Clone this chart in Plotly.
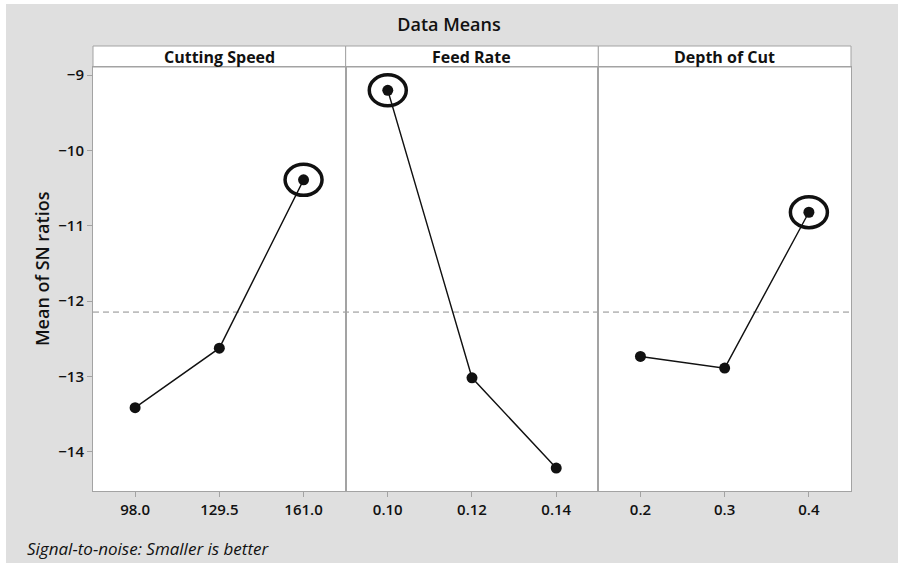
import plotly.graph_objects as go
from plotly.subplots import make_subplots

# Main effects of each factor on the mean S/N ratio
factors = ["Cutting Speed", "Feed Rate", "Depth of Cut"]

cutting_speed_levels = ["98.0", "129.5", "161.0"]
cutting_speed_sn = [-13.415, -12.625, -10.391]

feed_rate_levels = ["0.10", "0.12", "0.14"]
feed_rate_sn = [-9.202, -13.018, -14.217]

depth_of_cut_levels = ["0.2", "0.3", "0.4"]
depth_of_cut_sn = [-12.735, -12.890, -10.821]

y_ticks = [-14, -13, -12, -11, -10, -9]

levels = [cutting_speed_levels, feed_rate_levels, depth_of_cut_levels]
means = [cutting_speed_sn, feed_rate_sn, depth_of_cut_sn]

all_values = cutting_speed_sn + feed_rate_sn + depth_of_cut_sn
grand_mean = sum(all_values) / len(all_values)

W, H = 898, 563
ML, MR, MT, MB = 93, 47, 67, 72
plot_h = H - MT - MB
plot_w = W - ML - MR
strip_h = 21

BG = "#dfdfdf"
FRAME = "#a3a3a3"
INK = "#111111"
FONT = "Open Sans"

fig = make_subplots(rows=1, cols=3, shared_yaxes=True, horizontal_spacing=0)

for i, (lv, vals, name) in enumerate(zip(levels, means, factors), start=1):
    xs = list(range(len(lv)))
    fig.add_trace(
        go.Scatter(
            x=xs, y=vals, mode="lines+markers", name=name,
            line=dict(color=INK, width=1.4),
            marker=dict(color=INK, size=11),
            showlegend=False, hoverinfo="skip",
        ),
        row=1, col=i,
    )
    xname = "x" if i == 1 else f"x{i}"
    yname = "y" if i == 1 else f"y{i}"

    # ring around the best (highest S/N) level
    best = max(range(len(vals)), key=lambda k: vals[k])
    fig.add_shape(
        type="circle", xref=xname, yref=yname,
        xsizemode="pixel", ysizemode="pixel",
        xanchor=xs[best], yanchor=vals[best],
        x0=-18.5, x1=18.5, y0=-15.5, y1=15.5,
        line=dict(color=INK, width=3.5), fillcolor="rgba(0,0,0,0)",
        layer="above",
    )

    # factor header strip
    dom = f"{xname} domain"
    fig.add_shape(
        type="rect", xref=dom, yref="paper",
        x0=0, x1=1, y0=1, y1=1 + strip_h / plot_h,
        fillcolor="white", line=dict(color=FRAME, width=1), layer="below",
    )
    fig.add_annotation(
        xref=dom, yref="paper", x=0.5, y=1 + strip_h / 2 / plot_h,
        text=f"<b>{name}</b>", showarrow=False,
        font=dict(family=FONT, size=16, color=INK),
        xanchor="center", yanchor="middle",
    )

    fig.update_xaxes(
        row=1, col=i, tickvals=xs, ticktext=lv, range=[-0.5, len(lv) - 0.5],
        showline=True, mirror=True, linecolor=FRAME, linewidth=1,
        ticks="outside", ticklen=5, tickcolor=FRAME, showgrid=False,
        zeroline=False, fixedrange=True,
        tickfont=dict(family=FONT, size=15, color=INK, weight=600),
    )
    fig.update_yaxes(
        row=1, col=i, range=[-14.521, -8.893], tickvals=y_ticks,
        showline=True, mirror=True, linecolor=FRAME, linewidth=1,
        ticks="outside" if i == 1 else "", ticklen=5, tickcolor=FRAME,
        showticklabels=(i == 1), showgrid=False, zeroline=False,
        tickfont=dict(family=FONT, size=15, color=INK, weight=600),
    )

# overall mean reference line across all panels
fig.add_shape(
    type="line", xref="paper", yref="y", x0=0, x1=1,
    y0=grand_mean, y1=grand_mean,
    line=dict(color="#8c8c8c", width=1, dash="6px,4px"), layer="below",
)

# thin white edge along the top and left
top = 1 + MT / plot_h
fig.add_shape(type="rect", xref="paper", yref="paper",
              x0=-ML / plot_w - 0.01, x1=(W - ML) / plot_w + 0.01,
              y0=1 + (MT - 4) / plot_h, y1=top + 0.01,
              fillcolor="white", line=dict(width=0), layer="above")
fig.add_shape(type="rect", xref="paper", yref="paper",
              x0=-ML / plot_w - 0.01, x1=(6 - ML) / plot_w,
              y0=-MB / plot_h - 0.01, y1=top + 0.01,
              fillcolor="white", line=dict(width=0), layer="above")

fig.add_annotation(
    xref="paper", yref="paper", x=(42 - ML) / plot_w, y=(H - MB - 268) / plot_h,
    text="Mean of SN ratios", textangle=-90, showarrow=False,
    font=dict(family=FONT, size=18, color=INK, weight=600),
    xanchor="center", yanchor="middle",
)
fig.add_annotation(
    xref="paper", yref="paper", x=(25 - ML) / plot_w, y=(H - MB - 548) / plot_h,
    text="<i>Signal-to-noise: Smaller is better</i>", showarrow=False,
    font=dict(family=FONT, size=17, color=INK),
    xanchor="left", yanchor="middle",
)

fig.update_layout(
    width=W, height=H,
    margin=dict(l=ML, r=MR, t=MT, b=MB),
    paper_bgcolor=BG, plot_bgcolor="white",
    title=dict(text="Data Means", x=0.5, xref="container", xanchor="center",
               y=1 - 25 / H, yref="container", yanchor="middle",
               font=dict(family=FONT, size=18, color=INK, weight=600)),
)

fig.write_html("out.html")
